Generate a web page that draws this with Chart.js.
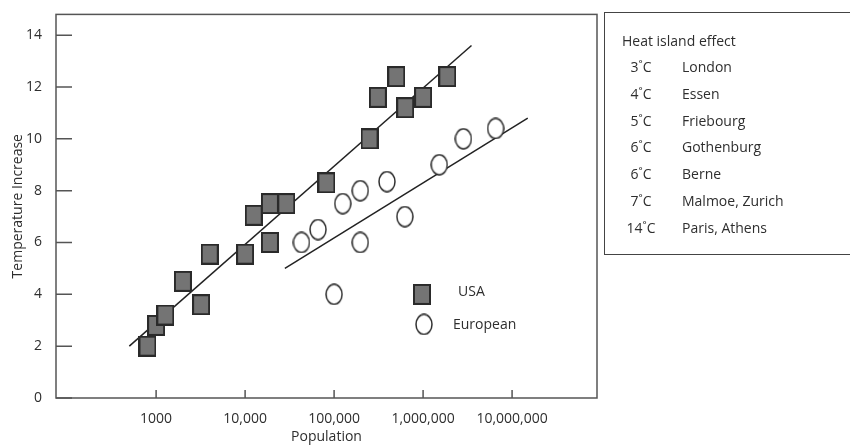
<!DOCTYPE html>
<html>
<head>
<meta charset="utf-8">
<script src="https://cdn.jsdelivr.net/npm/chart.js@4"></script>
<style>
  body { margin: 0; background: #fff; }
  #wrap { position: relative; width: 850px; height: 445px; overflow: hidden; }
  #panel {
    position: absolute; left: 604px; top: 12px; width: 260px; height: 241px;
    border: 1.5px solid #444; font-family: 'Open Sans', sans-serif; font-size: 14px; color: #2e2e2e;
  }
  #panel .title { position: absolute; left: 17px; top: 18px; }
  #panel .row { position: absolute; left: 0; height: 20px; line-height: 20px; }
  #panel .temp { position: absolute; left: 14px; width: 44px; text-align: center; }
  #panel .city { position: absolute; left: 77px; white-space: nowrap; }
</style>
</head>
<body>
<div id="wrap">
  <canvas id="chart" width="850" height="445"></canvas>
  <div id="panel"><div class="title">Heat island effect</div></div>
</div>
<script>
// USA cities: population vs temperature increase
const usaPop = [800, 1000, 1270, 2000, 3200, 4000, 10000, 12500, 19000, 19000, 29000, 82000, 250000, 310000, 500000, 630000, 1000000, 1870000];
const usaTemp = [2.0, 2.8, 3.2, 4.5, 3.6, 5.55, 5.55, 7.05, 7.5, 6.0, 7.5, 8.3, 10.0, 11.6, 12.4, 11.2, 11.6, 12.4];

// European cities
const euPop = [43000, 66000, 125000, 197000, 197000, 100000, 393000, 624000, 1520000, 2840000, 6530000];
const euTemp = [6.0, 6.5, 7.5, 8.0, 6.0, 4.0, 8.35, 7.0, 9.0, 10.0, 10.4];

// fitted lines (end points)
const usaFitPop = [500, 3500000];
const usaFitTemp = [2.0, 13.6];
const euFitPop = [28000, 15000000];
const euFitTemp = [5.0, 10.8];

// axis ticks
const xTicks = [1000, 10000, 100000, 1000000, 10000000];
const xTickLabels = ['1000', '10,000', '100,000', '1,000,000', '10,000,000'];
const yTicks = [0, 2, 4, 6, 8, 10, 12, 14];

// heat island side table
const heatTemps = ['3˚C', '4˚C', '5˚C', '6˚C', '6˚C', '7˚C', '14˚C'];
const heatCities = ['London', 'Essen', 'Friebourg', 'Gothenburg', 'Berne', 'Malmoe, Zurich', 'Paris, Athens'];

const panel = document.getElementById('panel');
heatTemps.forEach((t, i) => {
  const row = document.createElement('div');
  row.className = 'row';
  row.style.top = (44 + i * 26.8) + 'px';
  row.innerHTML = '<span class="temp">' + t + '</span><span class="city">' + heatCities[i] + '</span>';
  panel.appendChild(row);
});

function squareMark() {
  const c = document.createElement('canvas');
  c.width = 18; c.height = 21;
  const g = c.getContext('2d');
  g.fillStyle = '#747474';
  g.fillRect(1, 1, 16, 19);
  g.strokeStyle = '#2a2a2a';
  g.lineWidth = 2;
  g.strokeRect(1, 1, 16, 19);
  return c;
}

function ovalMark() {
  const c = document.createElement('canvas');
  c.width = 18; c.height = 22;
  const g = c.getContext('2d');
  g.beginPath();
  g.ellipse(9, 11, 8, 10, 0, 0, Math.PI * 2);
  g.fillStyle = '#fff';
  g.fill();
  g.strokeStyle = '#2e2e2e';
  g.lineWidth = 1.5;
  g.stroke();
  return c;
}

const sq = squareMark();
const ov = ovalMark();

const toPoints = (xs, ys) => xs.map((x, i) => ({ x: x, y: ys[i] }));

// box round the plot, inward tick marks and the inset legend
const framePlugin = {
  id: 'frame',
  beforeDatasetsDraw(chart) {
    const { ctx, chartArea: a, scales } = chart;
    ctx.save();
    ctx.strokeStyle = '#555';
    ctx.lineWidth = 1.5;
    ctx.strokeRect(a.left, a.top, a.right - a.left, a.bottom - a.top);
    ctx.beginPath();
    scales.y.ticks.forEach(t => {
      const y = scales.y.getPixelForValue(t.value);
      ctx.moveTo(a.left, y);
      ctx.lineTo(a.left + 16, y);
    });
    scales.x.ticks.forEach(t => {
      const x = scales.x.getPixelForValue(t.value);
      ctx.moveTo(x, a.bottom);
      ctx.lineTo(x, a.bottom - 8);
    });
    ctx.stroke();
    ctx.restore();
  },
  afterDraw(chart) {
    const { ctx, chartArea: a } = chart;
    ctx.save();
    const lx = a.left + 366, ly = a.top + 280;
    ctx.drawImage(sq, lx - 9, ly - 10.5);
    ctx.drawImage(ov, lx + 2 - 9, ly + 30 - 11);
    ctx.fillStyle = '#2e2e2e';
    ctx.font = "14px 'Open Sans', sans-serif";
    ctx.textBaseline = 'middle';
    ctx.fillText('USA', lx + 36, ly - 2);
    ctx.fillText('European', lx + 31, ly + 31);
    ctx.restore();
  }
};

Chart.defaults.font.family = "'Open Sans', sans-serif";
Chart.defaults.font.size = 14;
Chart.defaults.color = '#2e2e2e';

new Chart(document.getElementById('chart'), {
  type: 'scatter',
  data: {
    datasets: [
      {
        label: 'USA',
        data: toPoints(usaPop, usaTemp),
        pointStyle: sq,
        pointRadius: 10
      },
      {
        label: 'European',
        data: toPoints(euPop, euTemp),
        pointStyle: ov,
        pointRadius: 10
      },
      {
        label: 'USA fit',
        data: toPoints(usaFitPop, usaFitTemp),
        showLine: true,
        borderColor: '#222',
        borderWidth: 1.5,
        pointRadius: 0
      },
      {
        label: 'European fit',
        data: toPoints(euFitPop, euFitTemp),
        showLine: true,
        borderColor: '#222',
        borderWidth: 1.5,
        pointRadius: 0
      }
    ]
  },
  options: {
    responsive: false,
    animation: false,
    layout: { padding: { top: 12, right: 253, left: 0, bottom: 0 } },
    plugins: {
      legend: { display: false },
      tooltip: { enabled: false }
    },
    scales: {
      x: {
        type: 'logarithmic',
        min: 75,
        max: 90000000,
        afterBuildTicks: (scale) => { scale.ticks = xTicks.map(v => ({ value: v })); },
        afterFit: (scale) => { scale.height = 47; },
        grid: { display: false },
        border: { display: false },
        ticks: {
          autoSkip: false,
          maxRotation: 0,
          padding: 5,
          callback: (value, index) => xTickLabels[index]
        },
        title: { display: true, text: 'Population', padding: { top: 0, bottom: 0 } }
      },
      y: {
        min: 0,
        max: 14.8,
        afterBuildTicks: (scale) => { scale.ticks = yTicks.map(v => ({ value: v })); },
        afterFit: (scale) => { scale.width = 56; },
        grid: { display: false },
        border: { display: false },
        ticks: { padding: 6 },
        title: { display: true, text: 'Temperature Increase', padding: { top: 10, bottom: 0 } }
      }
    }
  },
  plugins: [framePlugin]
});
</script>
</body>
</html>
